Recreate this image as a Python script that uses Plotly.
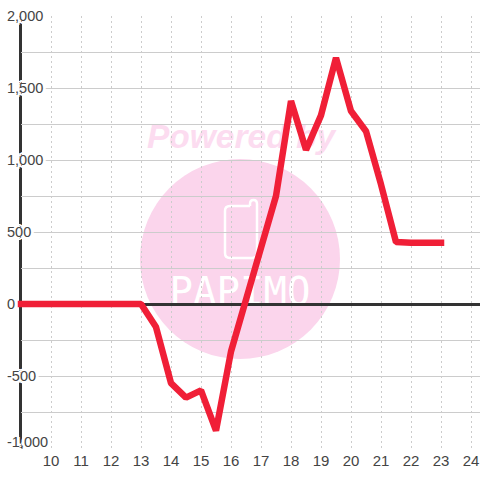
import plotly.graph_objects as go

# ---- data ----
x_values = [9, 9.5, 10, 10.5, 11, 11.5, 12, 12.5, 13, 13.5, 14, 14.5, 15, 15.5, 16, 16.5, 17, 17.5,
            18, 18.5, 19, 19.5, 20, 20.5, 21, 21.5, 22, 22.5, 23]
y_values = [0, 0, 0, 0, 0, 0, 0, 0, 0, -160, -550, -650, -600, -880, -330, 30, 400, 750,
            1410, 1070, 1310, 1710, 1340, 1200, 830, 430, 425, 425, 425]
x_ticks = list(range(10, 25))
y_label_values = [2000, 1500, 1000, 500, 0, -500, -1000]
y_label_texts = ["2,000", "1,500", "1,000", "500", "0", "-500", "-1,000"]
watermark_top = "Powered by"
watermark_name = "PAPIMO"

# ---- layout constants ----
W, H = 480, 480
L, R, T, B = 21, 0, 16, 32
PW, PH = W - L - R, H - T - B
INK = "#333333"
TEXT = "#444444"
GRID = "#cccccc"
PINK = "#fbd5ec"
PINK2 = "#fcdcf0"
RED = "#f01f37"
FONT = "Liberation Sans"

def px(v):
    return (v - L) / PW

def py(v):
    return (H - B - v) / PH

halo = ",".join(f"{a}px {b}px 0 #fff" for a, b in
                [(-3, 0), (3, 0), (0, -3), (0, 3), (-2, -2), (2, -2), (-2, 2), (2, 2)])

fig = go.Figure()
fig.add_trace(go.Scatter(
    x=x_values, y=y_values, mode="lines", cliponaxis=False, showlegend=False,
    line=dict(color=RED, width=6.5),
))

annotations = [
    dict(x=px(4.5), xref="paper", xanchor="left", y=val, yref="y", yanchor="middle", text=txt,
         showarrow=False, yshift=6 if val == -1000 else 0,
         font=dict(family=FONT, size=14.5, color=TEXT, shadow="none" if val == 0 else halo))
    for val, txt in zip(y_label_values, y_label_texts)
]

icon = [("M", 250, 206), ("L", 230, 206), ("Q", 225, 206, 225, 211), ("L", 225, 253),
        ("Q", 225, 258, 230, 258), ("L", 252, 258), ("Q", 257, 258, 257, 253), ("L", 257, 204),
        ("Q", 257, 200, 253.5, 200), ("Q", 250, 200, 250, 204), ("L", 250, 206)]
icon_path = ""
for seg in icon:
    pts = seg[1:]
    coords = " ".join(f"{px(pts[i]):.5f},{py(pts[i + 1]):.5f}" for i in range(0, len(pts), 2))
    icon_path += f"{seg[0]} {coords} "

shapes = [
    dict(type="circle", xref="paper", yref="paper", layer="below",
         x0=px(140), x1=px(340), y0=py(359), y1=py(159), fillcolor=PINK, line_width=0),
    dict(type="path", xref="paper", yref="paper", layer="below", path=icon_path,
         line=dict(color="white", width=2.5)),
    dict(type="rect", xref="paper", yref="paper", layer="below",
         x0=px(138), x1=px(344), y0=py(149.5), y1=py(115.5), line_width=0, fillcolor="rgba(0,0,0,0)",
         label=dict(text=watermark_top, textposition="middle center",
                    font=dict(family=FONT, size=33.5, color=PINK2, weight="bold", style="italic"))),
    dict(type="rect", xref="paper", yref="paper", layer="below",
         x0=px(165), x1=px(315), y0=py(309), y1=py(267), line_width=0, fillcolor="rgba(0,0,0,0)",
         label=dict(text=watermark_name, textposition="middle center",
                    font=dict(family="DejaVu Sans Mono", size=39, color="white"))),
    dict(type="line", xref="paper", yref="paper", layer="below",
         x0=px(20.5), x1=px(20.5), y0=0, y1=1, line=dict(color=INK, width=3)),
]

fig.update_layout(
    width=W, height=H, autosize=False,
    margin=dict(l=L, r=R, t=T, b=B, pad=0),
    paper_bgcolor="white", plot_bgcolor="rgba(0,0,0,0)",
    showlegend=False, shapes=shapes, annotations=annotations,
    font=dict(family=FONT, color=TEXT),
    xaxis=dict(range=[9, 24.3], tickmode="array", tickvals=x_ticks, ticktext=[str(t) for t in x_ticks],
               showgrid=True, gridcolor=GRID, gridwidth=1, griddash="2px,3px", zeroline=False,
               ticks="", ticklabelstandoff=2, tickfont=dict(family=FONT, size=15, color=TEXT),
               showline=False, layer="below traces"),
    yaxis=dict(range=[-1000, 2000], tick0=-1000, dtick=250, showticklabels=False,
               showgrid=True, gridcolor=GRID, gridwidth=1, ticks="",
               zeroline=True, zerolinecolor=INK, zerolinewidth=3,
               showline=False, layer="below traces"),
)

fig.write_html("out.html", config={"displayModeBar": False}, post_script="""
document.body.style.margin = '0';
document.querySelectorAll('.js-line').forEach(function (p) {
  p.style.strokeLinecap = 'square';
  p.style.strokeLinejoin = 'bevel';
  var g = p;
  while (g && g.tagName && g.tagName.toLowerCase() !== 'svg') {
    g.removeAttribute('clip-path');
    g.style.clipPath = 'none';
    g = g.parentNode;
  }
});
""")
